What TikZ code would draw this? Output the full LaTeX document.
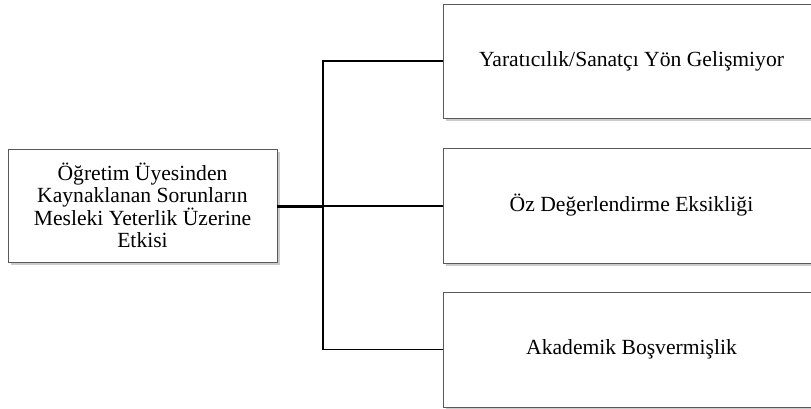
\documentclass[tikz,border=0pt]{standalone}
\usepackage{fontspec}
\setmainfont{Liberation Serif}
\usetikzlibrary{shadows}

\tikzset{
  kutu/.style={draw=black!65, line width=0.9pt, fill=white, align=center,
    font=\fontsize{21.6}{21.8}\selectfont,
    drop shadow={shadow xshift=2.5pt, shadow yshift=-3pt, fill=black!40, opacity=0.5}},
  baglanti/.style={line width=1.7pt, black}
}

\begin{document}
\begin{tikzpicture}[x=1pt,y=-1pt]

\useasboundingbox (0,0) rectangle (811,409);
\clip (0,0) rectangle (811,409);

\node[kutu, minimum width=269pt, minimum height=113pt, inner sep=0pt] (ana) at (142.5,205.5)
  {Öğretim Üyesinden\\Kaynaklanan Sorunların\\Mesleki Yeterlik Üzerine\\Etkisi};

\node[kutu, minimum width=377pt, minimum height=114pt] (yaratici) at (631.5,61)
  {Yaratıcılık/Sanatçı Yön Gelişmiyor};
\node[kutu, minimum width=377pt, minimum height=115pt] (oz) at (631.5,205.5)
  {Öz Değerlendirme Eksikliği};
\node[kutu, minimum width=377pt, minimum height=115pt] (akademik) at (631.5,349.5)
  {Akademik Boşvermişlik};

\coordinate (kol) at (323,206);

\draw[line width=3pt] (ana.east |- kol) -- (kol);
\draw[baglanti] (yaratici.west) -| (kol) |- (akademik.west);
\draw[baglanti] (kol) -- (kol -| oz.west);
\end{tikzpicture}
\end{document}
